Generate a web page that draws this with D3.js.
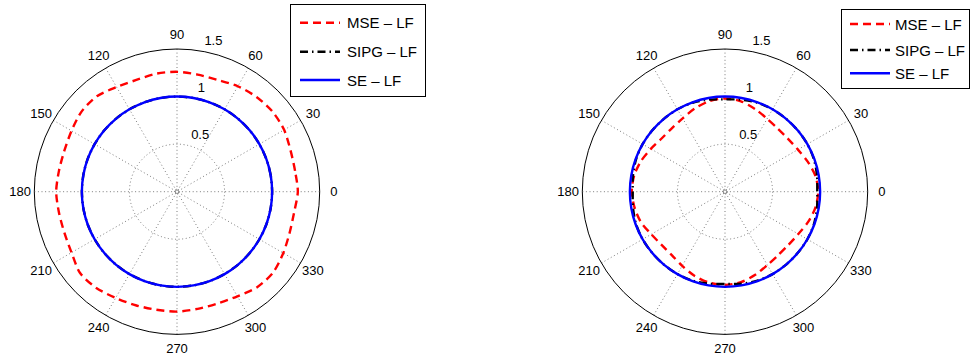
<!DOCTYPE html>
<html>
<head>
<meta charset="utf-8">
<script src="https://d3js.org/d3.v7.min.js"></script>
<style>
  html, body { margin: 0; padding: 0; background: #fff; }
  svg { display: block; font-family: "Liberation Sans", Arial, Helvetica, sans-serif; }
</style>
</head>
<body>
<svg id="chart" width="972" height="360"></svg>
<script>
// Sample angles (degrees) shared by every series
const angleDeg = [0, 10, 20, 30, 40, 50, 60, 70, 80, 90, 100, 110, 120, 130, 140, 150, 160, 170,
                  180, 190, 200, 210, 220, 230, 240, 250, 260, 270, 280, 290, 300, 310, 320, 330, 340, 350];

// Left panel
const leftMSE  = [1.27, 1.26, 1.27, 1.30, 1.31, 1.30, 1.28, 1.25, 1.25, 1.26, 1.26, 1.25, 1.27, 1.31, 1.31, 1.28, 1.26, 1.26,
                  1.27, 1.26, 1.26, 1.28, 1.33, 1.32, 1.29, 1.27, 1.26, 1.26, 1.25, 1.25, 1.27, 1.31, 1.32, 1.29, 1.26, 1.25];
const leftSIPG = [1, 1, 1, 1, 1, 1, 1, 1, 1, 1, 1, 1, 1, 1, 1, 1, 1, 1,
                  1, 1, 1, 1, 1, 1, 1, 1, 1, 1, 1, 1, 1, 1, 1, 1, 1, 1];
const leftSE   = [1, 1, 1, 1, 1, 1, 1, 1, 1, 1, 1, 1, 1, 1, 1, 1, 1, 1,
                  1, 1, 1, 1, 1, 1, 1, 1, 1, 1, 1, 1, 1, 1, 1, 1, 1, 1];

// Right panel
const rightMSE  = [0.98, 0.965, 0.925, 0.885, 0.865, 0.865, 0.885, 0.925, 0.965, 0.98, 0.965, 0.93, 0.89, 0.87, 0.87, 0.90, 0.94, 0.97,
                   0.98, 0.965, 0.94, 0.895, 0.87, 0.87, 0.90, 0.94, 0.97, 0.98, 0.965, 0.93, 0.89, 0.87, 0.87, 0.89, 0.93, 0.965];
const rightSIPG = [0.97, 0.982, 0.995, 1, 1, 1, 1, 0.995, 0.982, 0.97, 0.982, 0.995, 1, 1, 1, 1, 0.995, 0.982,
                   0.97, 0.982, 0.995, 1, 1, 1, 1, 0.995, 0.982, 0.97, 0.982, 0.995, 1, 1, 1, 1, 0.995, 0.982];
const rightSE   = [1, 1, 1, 1, 1, 1, 1, 1, 1, 1, 1, 1, 1, 1, 1, 1, 1, 1,
                   1, 1, 1, 1, 1, 1, 1, 1, 1, 1, 1, 1, 1, 1, 1, 1, 1, 1];

// Axis labels
const angleTicks  = [0, 30, 60, 90, 120, 150, 180, 210, 240, 270, 300, 330];
const radialTicks = [0.5, 1, 1.5];
const seriesNames = ["MSE – LF", "SIPG – LF", "SE – LF"];

const svg = d3.select("#chart");
const rMax = 1.5;
const r = d3.scaleLinear().domain([0, rMax]).range([0, 142.7]);
const toRad = d => d * Math.PI / 180;

const styles = [
  { color: "#ff0000", dash: "8,5" },
  { color: "#000000", dash: "8,4,1.5,4" },
  { color: "#0000ff", dash: null }
];

function polarPanel(cx, cy, series, legend) {
  const g = svg.append("g").attr("transform", `translate(${cx},${cy})`);

  // background disc
  g.append("circle").attr("r", r(rMax)).attr("fill", "#fff");

  // dotted rings
  radialTicks.filter(t => t < rMax).forEach(t => {
    g.append("circle").attr("r", r(t)).attr("fill", "none")
      .attr("stroke", "#444").attr("stroke-width", 0.7).attr("stroke-dasharray", "1,2.6");
  });
  g.append("circle").attr("r", 2.5).attr("fill", "none")
    .attr("stroke", "#444").attr("stroke-width", 0.7).attr("stroke-dasharray", "1,1.5");

  // dotted spokes
  angleTicks.filter(a => a < 180).forEach(a => {
    const t = toRad(a);
    g.append("line")
      .attr("x1", -r(rMax) * Math.cos(t)).attr("y1", r(rMax) * Math.sin(t))
      .attr("x2", r(rMax) * Math.cos(t)).attr("y2", -r(rMax) * Math.sin(t))
      .attr("stroke", "#444").attr("stroke-width", 0.7).attr("stroke-dasharray", "1,2.6");
  });

  // outer ring
  g.append("circle").attr("r", r(rMax)).attr("fill", "none")
    .attr("stroke", "#000").attr("stroke-width", 1);

  // angle labels
  angleTicks.forEach(a => {
    const t = toRad(a), rr = r(rMax) * 1.1;
    g.append("text")
      .attr("x", rr * Math.cos(t)).attr("y", -rr * Math.sin(t))
      .attr("text-anchor", "middle").attr("dominant-baseline", "central")
      .attr("font-size", 13).attr("fill", "#000").text(a);
  });

  // radial labels along 82 degrees
  radialTicks.forEach(t => {
    const rr = r(t + 0.025), a = toRad(82);
    g.append("text")
      .attr("x", rr * Math.cos(a) + 7.2).attr("y", -rr * Math.sin(a) - 2.8)
      .attr("text-anchor", "start")
      .attr("font-size", 13).attr("fill", "#000").text(t);
  });

  // series curves
  const line = d3.lineRadial()
    .angle(d => Math.PI / 2 - toRad(d[0]))
    .radius(d => r(d[1]))
    .curve(d3.curveCardinalClosed.tension(0.2));

  series.forEach((vals, i) => {
    const pts = angleDeg.map((a, k) => [a, vals[k]]);
    g.append("path").attr("d", line(pts))
      .attr("fill", "none").attr("stroke", styles[i].color).attr("stroke-width", 2.4)
      .attr("stroke-dasharray", styles[i].dash);
  });

  // legend
  const lg = svg.append("g");
  lg.append("rect")
    .attr("x", legend.x).attr("y", legend.y).attr("width", legend.w).attr("height", legend.h)
    .attr("fill", "#fff").attr("stroke", "#000").attr("stroke-width", 1);
  seriesNames.forEach((name, i) => {
    const y = legend.rows[i];
    lg.append("line")
      .attr("x1", legend.lx1).attr("x2", legend.lx2).attr("y1", y).attr("y2", y)
      .attr("stroke", styles[i].color).attr("stroke-width", 2.4)
      .attr("stroke-dasharray", styles[i].dash);
    lg.append("text")
      .attr("x", legend.tx).attr("y", y)
      .attr("dominant-baseline", "central")
      .attr("font-size", 15).attr("fill", "#000").text(name);
  });
}

polarPanel(177, 191.7, [leftMSE, leftSIPG, leftSE],
  { x: 290.5, y: 4.5, w: 135, h: 92, rows: [22.7, 51.7, 80], lx1: 300, lx2: 340, tx: 347 });
polarPanel(725, 191.7, [rightMSE, rightSIPG, rightSE],
  { x: 841.5, y: 9.5, w: 128, h: 79, rows: [24, 50, 73.3], lx1: 850, lx2: 890, tx: 895 });
</script>
</body>
</html>
